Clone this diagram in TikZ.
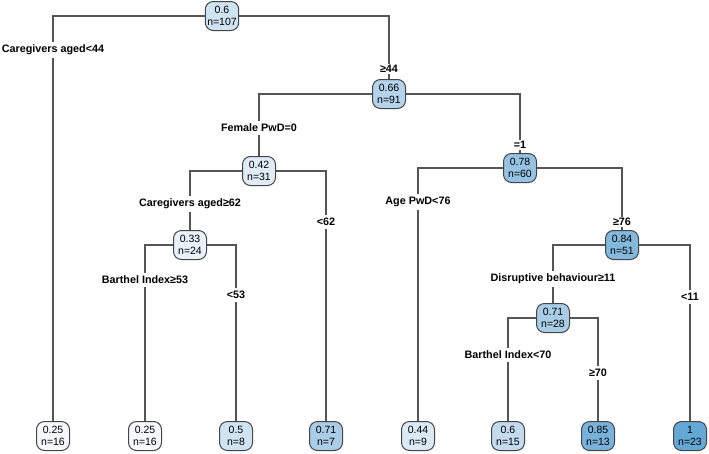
\documentclass[tikz,border=0pt]{standalone}
\usepackage{fontspec}
\setmainfont{Liberation Sans}
\definecolor{edgegray}{HTML}{555555}
\definecolor{boxgray}{HTML}{454545}
\definecolor{vA}{HTML}{F5F9FD}
\definecolor{vB}{HTML}{E9F2FA}
\definecolor{vC}{HTML}{DFEBF7}
\definecolor{vD}{HTML}{DCE9F6}
\definecolor{vE}{HTML}{D0E3F3}
\definecolor{vF}{HTML}{C3DAEF}
\definecolor{vG}{HTML}{B5D3EB}
\definecolor{vH}{HTML}{A9CCE7}
\definecolor{vI}{HTML}{96C3E3}
\definecolor{vJ}{HTML}{84B9DE}
\definecolor{vK}{HTML}{78B2DB}
\definecolor{vL}{HTML}{64A9D6}
\tikzset{
  leafbox/.style={draw=boxgray,line width=1pt,rounded corners=8pt,fill=#1,align=center,
    minimum width=33pt,minimum height=29pt,inner sep=2pt,font=\fontsize{10.5}{11.5}\selectfont},
  splitlab/.style={fill=white,inner sep=3pt,font=\bfseries\fontsize{10.8}{12}\selectfont},
  edge/.style={draw=edgegray,line width=1.2pt}
}
\begin{document}
\begin{tikzpicture}[x=1pt,y=-1pt]
\useasboundingbox (0,0) rectangle (709,453);
\node[leafbox=vE] (root) at (222,16) {0.6\\n=107};
\node[splitlab] (cg44) at (53,50) {Caregivers aged<44};
\node[splitlab,inner sep=1pt] (ge44) at (389,69) {≥44};
\node[leafbox=vG] (n66) at (389,94) {0.66\\n=91};
\node[splitlab] (fem0) at (259,128) {Female PwD=0};
\node[splitlab,inner sep=1pt] (eq1) at (520,145) {=1};
\node[leafbox=vC] (n42) at (259,171) {0.42\\n=31};
\node[leafbox=vI] (n78) at (520,168) {0.78\\n=60};
\node[splitlab] (cg62) at (190,204) {Caregivers aged≥62};
\node[splitlab] (lt62) at (326,222) {<62};
\node[splitlab] (age76) at (418,202) {Age PwD<76};
\node[splitlab,inner sep=1pt] (ge76) at (622,222) {≥76};
\node[leafbox=vB] (n33) at (190,245) {0.33\\n=24};
\node[leafbox=vJ] (n84) at (622,245) {0.84\\n=51};
\node[splitlab] (bi53) at (145,280) {Barthel Index≥53};
\node[splitlab] (lt53) at (236,295) {<53};
\node[splitlab] (db11) at (553,279) {Disruptive behaviour≥11};
\node[splitlab] (lt11) at (690,297) {<11};
\node[leafbox=vH] (n71) at (553,318) {0.71\\n=28};
\node[splitlab] (bi70) at (508,355) {Barthel Index<70};
\node[splitlab] (ge70) at (598,373) {≥70};
\node[leafbox=vA] (lfa) at (53,436) {0.25\\n=16};
\node[leafbox=vA] (lfb) at (145,436) {0.25\\n=16};
\node[leafbox=vE] (lfc) at (236,436) {0.5\\n=8};
\node[leafbox=vH] (lfd) at (326,436) {0.71\\n=7};
\node[leafbox=vD] (lfe) at (418,436) {0.44\\n=9};
\node[leafbox=vF] (lff) at (508,436) {0.6\\n=15};
\node[leafbox=vK] (lfg) at (598,436) {0.85\\n=13};
\node[leafbox=vL] (lfh) at (690,436) {1\\n=23};
\path[edge] (root) -| (cg44) (cg44) -- (lfa) (root) -| (ge44) (ge44) -- (n66);
\path[edge] (n66) -| (fem0) (fem0) -- (n42) (n66) -| (eq1) (eq1) -- (n78);
\path[edge] (n42) -| (cg62) (cg62) -- (n33) (n42) -| (lt62) (lt62) -- (lfd);
\path[edge] (n33) -| (bi53) (bi53) -- (lfb) (n33) -| (lt53) (lt53) -- (lfc);
\path[edge] (n78) -| (age76) (age76) -- (lfe) (n78) -| (ge76) (ge76) -- (n84);
\path[edge] (n84) -| (db11) (db11) -- (n71) (n84) -| (lt11) (lt11) -- (lfh);
\path[edge] (n71) -| (bi70) (bi70) -- (lff) (n71) -| (ge70) (ge70) -- (lfg);
\end{tikzpicture}
\end{document}
